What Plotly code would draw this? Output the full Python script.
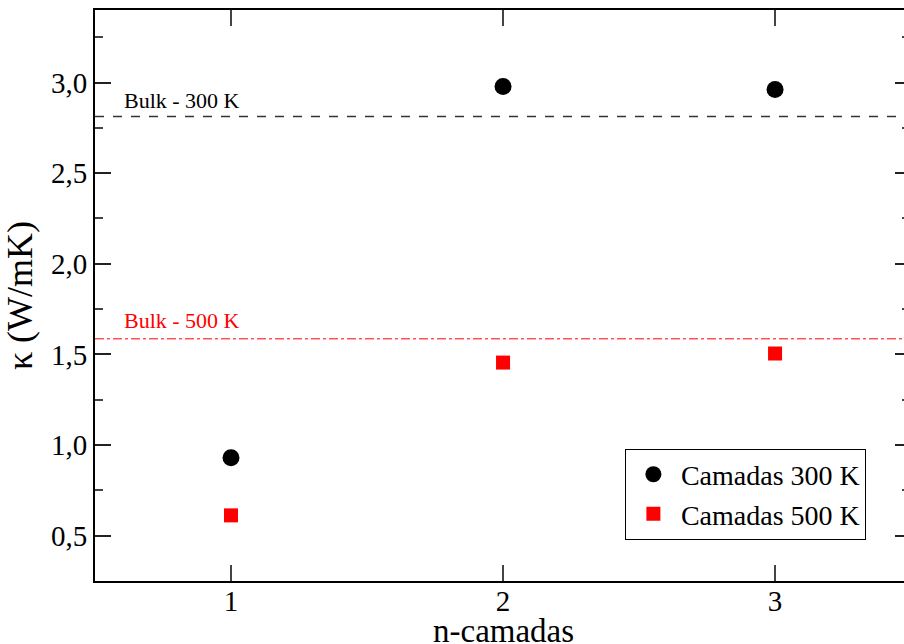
import plotly.graph_objects as go

layers = [1, 2, 3]
kappa_300 = [0.93, 2.978, 2.962]
kappa_500 = [0.612, 1.455, 1.505]
bulk_300 = 2.813
bulk_500 = 1.586
x_ticks = [1, 2, 3]
y_ticks = [0.5, 1.0, 1.5, 2.0, 2.5, 3.0]
y_tick_labels = ["0,5", "1,0", "1,5", "2,0", "2,5", "3,0"]

FONT = "Liberation Serif"
XR = [0.5, 3.474]
YR = [0.25, 3.4]

fig = go.Figure()
fig.add_trace(go.Scatter(x=XR, y=[bulk_300, bulk_300], mode="lines",
                         line=dict(color="#333333", width=1.5, dash="dash"),
                         showlegend=False, hoverinfo="skip"))
fig.add_trace(go.Scatter(x=XR, y=[bulk_500, bulk_500], mode="lines",
                         line=dict(color="#ff0000", width=1, dash="dashdot"),
                         showlegend=False, hoverinfo="skip"))
fig.add_trace(go.Scatter(x=layers, y=kappa_300, mode="markers", name="Camadas 300 K",
                         marker=dict(symbol="circle", size=17, color="black")))
fig.add_trace(go.Scatter(x=layers, y=kappa_500, mode="markers", name="Camadas 500 K",
                         marker=dict(symbol="square", size=14, color="#ff0000")))
# right-side ticks without spine
fig.add_trace(go.Scatter(x=[1], y=[1], yaxis="y2", mode="markers",
                         marker=dict(opacity=0), showlegend=False, hoverinfo="skip"))

fig.add_annotation(x=0.6, y=2.90, text="Bulk - 300 K", showarrow=False,
                   xanchor="left", yanchor="middle", font=dict(family=FONT, size=22, color="black"))
fig.add_annotation(x=0.6, y=1.685, text="Bulk - 500 K", showarrow=False,
                   xanchor="left", yanchor="middle", font=dict(family=FONT, size=22, color="#ff0000"))
# x-axis title (partially cut at the bottom edge as in the reference)
fig.add_annotation(xref="paper", yref="paper", x=0.505, y=-0.053, text="n-camadas",
                   showarrow=False, xanchor="center", yanchor="top",
                   font=dict(family=FONT, size=33, color="black"))

fig.update_layout(
    width=904, height=644,
    margin=dict(l=95, r=0, t=10, b=63),
    paper_bgcolor="white", plot_bgcolor="white",
    font=dict(family=FONT, size=22, color="black"),
    xaxis=dict(range=XR, tickvals=x_ticks, ticktext=[str(v) for v in x_ticks],
               ticks="inside", ticklen=16, tickwidth=1.5, tickcolor="#444444",
               showline=True, linewidth=2, linecolor="black", mirror="ticks",
               showgrid=False, zeroline=False, automargin=False,
               ticklabelstandoff=-7,
               tickfont=dict(family=FONT, size=29)),
    yaxis=dict(range=YR, tickvals=y_ticks, ticktext=y_tick_labels,
               ticks="inside", ticklen=16, tickwidth=1.5, tickcolor="#222222",
               minor=dict(dtick=0.25, tick0=0.25, ticks="inside", ticklen=8, tickwidth=1.5, tickcolor="#444444"),
               showline=True, linewidth=2, linecolor="black",
               showgrid=False, zeroline=False, automargin=False,
               tickfont=dict(family=FONT, size=29),
               title=dict(text="κ (W/mK)", font=dict(family=FONT, size=36), standoff=10)),
    yaxis2=dict(range=YR, overlaying="y", side="right", tickvals=y_ticks,
                showticklabels=False, ticks="inside", ticklen=9, tickwidth=1.5, tickcolor="#222222",
                minor=dict(dtick=0.25, tick0=0.25, ticks="inside", ticklen=2, tickwidth=1.5, tickcolor="#444444"),
                showline=False, showgrid=False, zeroline=False, automargin=False),
    legend=dict(x=0.655, y=0.232, xanchor="left", yanchor="top",
                bordercolor="black", borderwidth=1, bgcolor="white",
                font=dict(family=FONT, size=28), itemwidth=45,
                tracegroupgap=0),
    showlegend=True,
)

fig.write_html("out.html")
